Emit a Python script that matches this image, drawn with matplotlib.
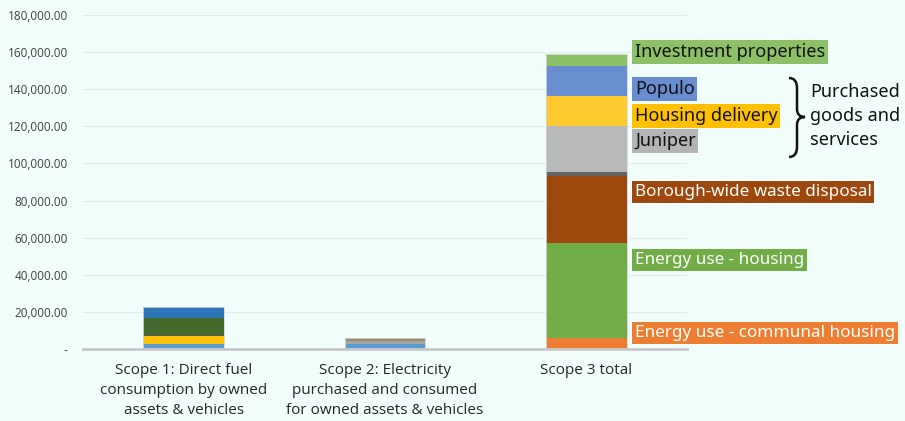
import matplotlib
matplotlib.use("Agg")
import matplotlib.pyplot as plt
from matplotlib.path import Path
from matplotlib.patches import PathPatch
from matplotlib.ticker import FuncFormatter
import numpy as np

# ---------------- data ----------------
categories = ["Scope 1: Direct fuel\nconsumption by owned\nassets & vehicles",
              "Scope 2: Electricity\npurchased and consumed\nfor owned assets & vehicles",
              "Scope 3 total"]

scope1_values = [2700, 4100, 700, 9000, 6000]
scope1_colors = ["#5B9BD5", "#FFC000", "#595959", "#43682B", "#2E75B6"]

scope2_values = [2500, 1800, 900, 700]
scope2_colors = ["#5B9BD5", "#A5A5A5", "#9C8B62", "#6B6250"]

scope3_names = ["Energy use - communal housing", "Energy use - housing",
                "Borough-wide waste disposal", "Other", "Juniper",
                "Housing delivery", "Populo", "Investment properties"]
scope3_values = [6100, 50900, 36400, 2100, 24800, 16000, 16300, 6200]
scope3_colors = ["#ED7D31", "#70AD47", "#9E480E", "#636363", "#B9B9B9",
                 "#FFCA30", "#698ED0", "#8CC168"]

y_ticks = [0, 20000, 40000, 60000, 80000, 100000, 120000, 140000, 160000, 180000]

BG = "#F2FEFB"

fig = plt.figure(figsize=(9.05, 4.21), dpi=100, facecolor=BG)
W, H = 905, 421
ax = fig.add_axes([83 / W, 1 - 349 / H, (687 - 83) / W, (349 - 15) / H])
ax.set_facecolor(BG)

bar_w = 0.4
for i, (vals, cols) in enumerate([(scope1_values, scope1_colors),
                                  (scope2_values, scope2_colors),
                                  (scope3_values, scope3_colors)]):
    bottom = 0
    for v, c in zip(vals, cols):
        ax.bar(i, v, bottom=bottom, width=bar_w, color=c,
               edgecolor="none", zorder=3)
        bottom += v
    ax.bar(i, bottom, width=bar_w, fill=False, edgecolor="#D0D8D8",
           linewidth=0.6, zorder=4)

ax.set_xlim(-0.5, 2.5)
ax.set_ylim(0, 180000)
ax.set_yticks(y_ticks)
ax.yaxis.set_major_formatter(FuncFormatter(
    lambda v, p: "-" if v == 0 else f"{v:,.2f}"))
ax.set_xticks(range(3))
ax.set_xticklabels(categories, fontsize=11, color="#262626",
                   family="Open Sans", linespacing=1.45)
ax.tick_params(axis="y", length=0, pad=11, labelsize=8.5, labelcolor="#404040")
ax.tick_params(axis="x", length=0, pad=10)
for lbl in ax.get_yticklabels():
    lbl.set_family("Open Sans")
ax.grid(axis="y", color="#E3ECEB", linewidth=0.8, zorder=0)
for s in ["top", "right", "left"]:
    ax.spines[s].set_visible(False)
ax.spines["bottom"].set_color("#C8C8C8")
ax.spines["bottom"].set_linewidth(2)
ax.spines["bottom"].set_zorder(5)

# ---------------- annotations ----------------
def px(x, y):
    return x / W, 1 - y / H

labels = [
    ("Investment properties", 52, "#8CC168", "#111111", 13),
    ("Populo", 89, "#698ED0", "#111111", 13),
    ("Housing delivery", 116, "#FFC000", "#111111", 13),
    ("Juniper", 141, "#B4B4B4", "#111111", 13),
    ("Borough-wide waste disposal", 192, "#9E480E", "white", 12.3),
    ("Energy use - housing", 260, "#70AD47", "white", 12.3),
    ("Energy use - communal housing", 333, "#ED7D31", "white", 12.3),
]
for txt, y, bg, fg, fs in labels:
    fig.text(*px(635, y), txt, fontsize=fs, color=fg, family="Noto Sans",
             va="center", ha="left",
             bbox=dict(boxstyle="square,pad=0.15", fc=bg, ec="none"))

fig.text(*px(810, 116), "Purchased\ngoods and\nservices", fontsize=13,
         color="#111111", family="Noto Sans", va="center", ha="left",
         linespacing=1.45)

# curly brace
x0, xm, xt = 789, 797, 805
y0, ym, y1 = 78, 117, 157
verts = [(x0, y0), (xm, y0), (xm, y0 + 10),
         (xm, ym - 8),
         (xm, ym), (xt, ym),
         (xm, ym), (xm, ym + 8),
         (xm, y1 - 10),
         (xm, y1), (x0, y1)]
codes = [Path.MOVETO, Path.CURVE3, Path.CURVE3,
         Path.LINETO,
         Path.CURVE3, Path.CURVE3,
         Path.CURVE3, Path.CURVE3,
         Path.LINETO,
         Path.CURVE3, Path.CURVE3]
verts_fig = [px(x, y) for x, y in verts]
brace = PathPatch(Path(verts_fig, codes), transform=fig.transFigure,
                  fill=False, lw=1.8, color="#111111")
fig.patches.append(brace)

fig.savefig("out.png", dpi=100, facecolor=BG)
